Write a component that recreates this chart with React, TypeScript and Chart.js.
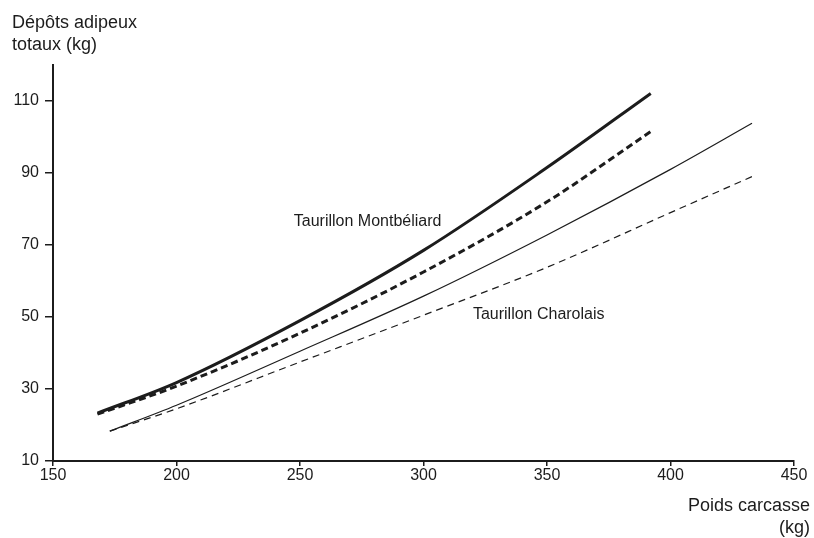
import React, { useEffect, useRef } from "react";
import { Chart, registerables } from "chart.js";

Chart.register(...registerables);

// Data
const montbeliardX = [168, 200, 250, 300, 350, 392];
const montbeliardSolid = [23.3, 31.8, 49, 68.5, 91.5, 112.1];
const montbeliardDashed = [23, 30.8, 45.5, 62.5, 82, 101.5];

const charolaisX = [173, 200, 250, 300, 350, 400, 433];
const charolaisSolid = [18.3, 25.5, 40.5, 55.8, 72.8, 91, 103.8];
const charolaisDashed = [18.3, 24.5, 37.5, 50.5, 63.8, 79, 89];

const yTicks = [10, 30, 50, 70, 90, 110];
const yTitle = ["Dépôts adipeux", "totaux (kg)"];
const xTitle = ["Poids carcasse", "(kg)"];
const labelMont = { text: "Taurillon Montbéliard", x: 247.5, y: 76.5 };
const labelCharo = { text: "Taurillon Charolais", x: 320, y: 50.6 };

const FONT = '"Liberation Sans", Arial, Helvetica, sans-serif';
const INK = "#1c1c1c";

const pts = (xs: number[], ys: number[]) => xs.map((x, i) => ({ x, y: ys[i] }));

const textPlugin = {
  id: "texts",
  afterDraw(chart: any) {
    const ctx = chart.ctx;
    const xs = chart.scales.x;
    const ys = chart.scales.y;
    ctx.save();
    ctx.fillStyle = INK;
    ctx.font = `18px ${FONT}`;
    ctx.textBaseline = "alphabetic";
    ctx.textAlign = "left";
    ctx.fillText(yTitle[0], 12, 28);
    ctx.fillText(yTitle[1], 12, 50);
    ctx.textAlign = "right";
    ctx.fillText(xTitle[0], 810, 511);
    ctx.fillText(xTitle[1], 810, 533);
    ctx.font = `16px ${FONT}`;
    ctx.textAlign = "left";
    ctx.textBaseline = "middle";
    for (const l of [labelMont, labelCharo]) {
      ctx.fillText(l.text, xs.getPixelForValue(l.x), ys.getPixelForValue(l.y));
    }
    ctx.restore();
  },
};

export default function App() {
  const ref = useRef<HTMLCanvasElement | null>(null);
  useEffect(() => {
    if (!ref.current) return;
    const common = { pointRadius: 0, fill: false, tension: 0.4, cubicInterpolationMode: "monotone" as const, borderColor: INK };
    const chart = new Chart(ref.current, {
      type: "line",
      data: {
        datasets: [
          { ...common, label: "Montbéliard 1", data: pts(montbeliardX, montbeliardSolid), borderWidth: 3 },
          { ...common, label: "Montbéliard 2", data: pts(montbeliardX, montbeliardDashed), borderWidth: 3, borderDash: [7, 4] },
          { ...common, label: "Charolais 1", data: pts(charolaisX, charolaisSolid), borderWidth: 1.2 },
          { ...common, label: "Charolais 2", data: pts(charolaisX, charolaisDashed), borderWidth: 1.2, borderDash: [7, 5] },
        ],
      },
      options: {
        animation: false,
        responsive: true,
        maintainAspectRatio: false,
        layout: { padding: { left: 0, top: 65, right: 20, bottom: 0 } },
        plugins: { legend: { display: false }, tooltip: { enabled: false } },
        scales: {
          x: {
            type: "linear",
            min: 150,
            max: 450,
            afterFit: (s: any) => { s.height = 77; },
            ticks: { stepSize: 50, color: INK, font: { family: FONT, size: 16 }, padding: 0, maxRotation: 0 },
            grid: { drawOnChartArea: false, drawTicks: true, tickLength: 5, color: INK, lineWidth: 1.5 },
            border: { display: true, color: INK, width: 2 },
          },
          y: {
            type: "linear",
            min: 10,
            max: 120,
            afterFit: (s: any) => { s.width = 53; },
            afterBuildTicks: (s: any) => { s.ticks = yTicks.map((v) => ({ value: v })); },
            ticks: { color: INK, font: { family: FONT, size: 16 }, padding: 6 },
            grid: { drawOnChartArea: false, drawTicks: true, tickLength: 8, color: INK, lineWidth: 1.5 },
            border: { display: true, color: INK, width: 2 },
          },
        },
      },
      plugins: [textPlugin],
    });
    return () => chart.destroy();
  }, []);
  return (
    <div style={{ position: "fixed", left: 0, top: 0, width: 814, height: 538, background: "#fff" }}>
      <canvas ref={ref} />
    </div>
  );
}
